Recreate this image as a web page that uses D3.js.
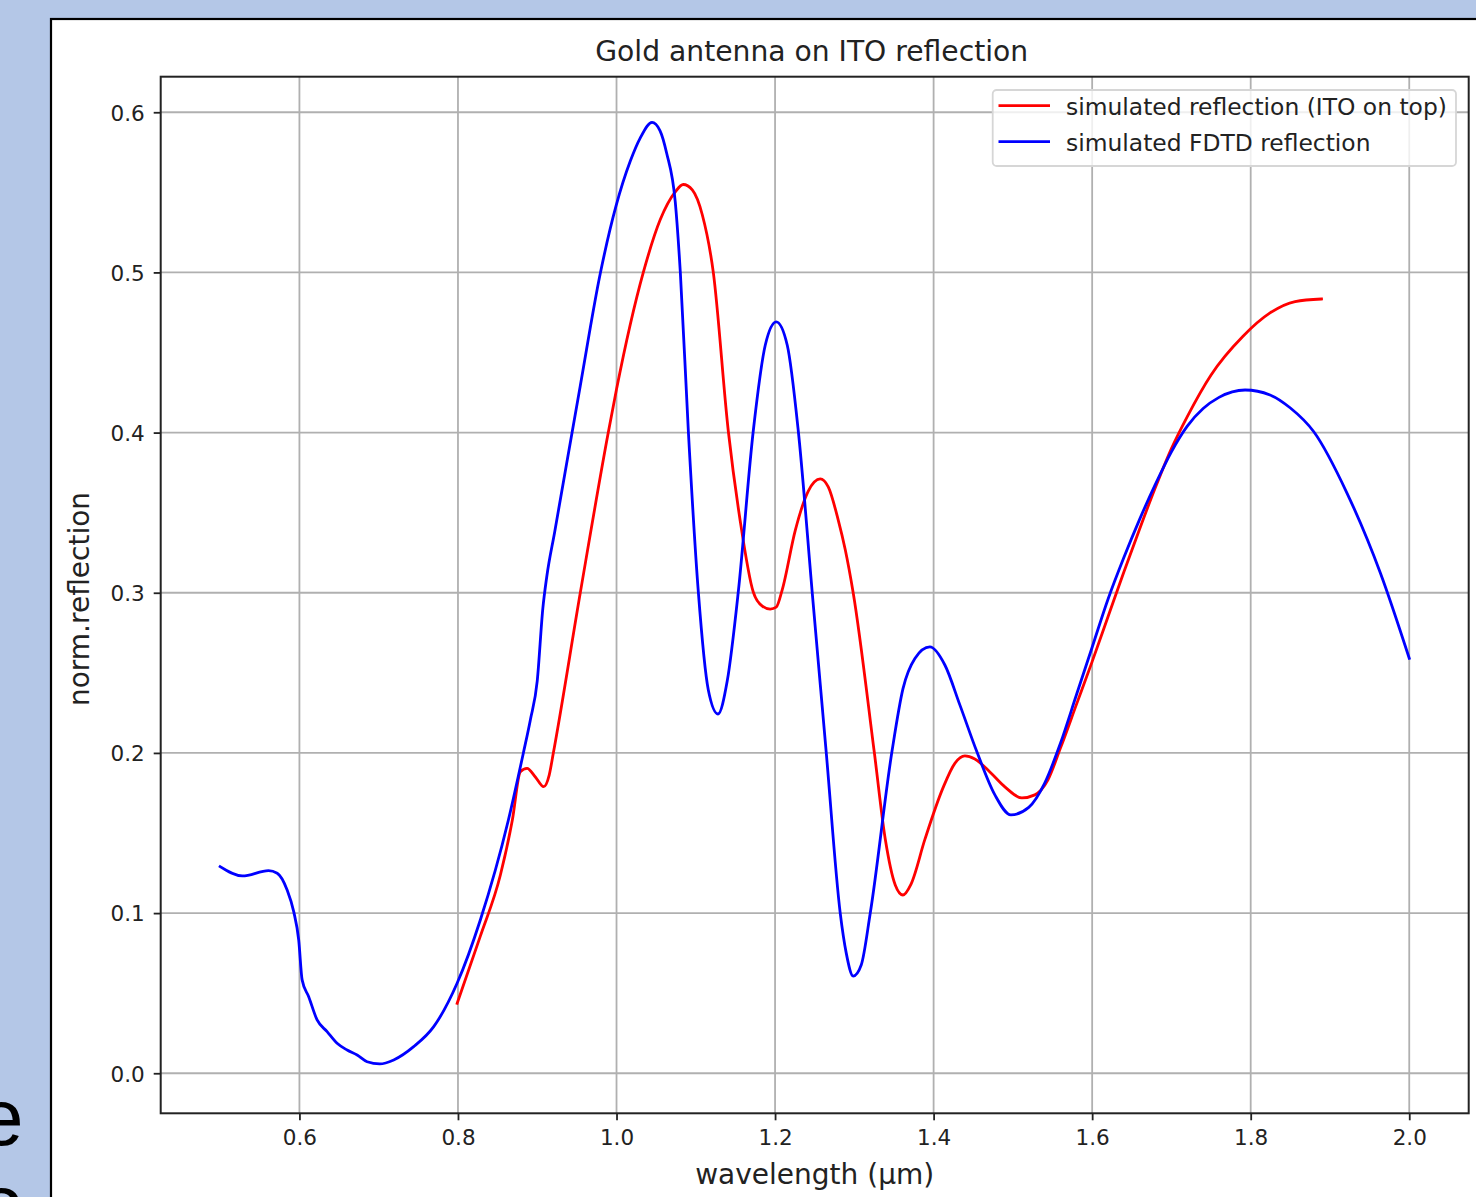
<!DOCTYPE html>
<html>
<head>
<meta charset="utf-8">
<script src="https://cdn.jsdelivr.net/npm/d3@7"></script>
<style>
  html, body { margin: 0; padding: 0; background: #b4c7e7; }
  svg { display: block; }
  text { font-family: "DejaVu Sans", sans-serif; }
</style>
</head>
<body>
<script>
// ---------- data ----------
const chartTitle = "Gold antenna on ITO reflection";
const xLabel = "wavelength (µm)";
const yLabel = "norm.reflection";
const seriesNames = ["simulated reflection (ITO on top)", "simulated FDTD reflection"];
const seriesColors = ["#ff0000", "#0000ff"];

const xTicks = [0.6, 0.8, 1.0, 1.2, 1.4, 1.6, 1.8, 2.0];
const yTicks = [0.0, 0.1, 0.2, 0.3, 0.4, 0.5, 0.6];

const redX = [0.799, 0.828, 0.8535, 0.8686, 0.8787, 0.8871, 0.8976, 0.9081, 0.915, 0.9203,
  0.9543, 0.9896, 1.0, 1.0338, 1.0552, 1.0741, 1.0842, 1.0956, 1.1082, 1.1221, 1.141,
  1.156, 1.1725, 1.1839, 1.1939, 1.2015, 1.2091, 1.2255, 1.2419, 1.257, 1.2671, 1.2797,
  1.2885, 1.2986, 1.3251, 1.339, 1.3516, 1.3613, 1.3714, 1.389, 1.4117, 1.4268, 1.4394, 1.452,
  1.471, 1.4899, 1.5113, 1.5277, 1.5441, 1.56, 1.58, 1.60, 1.62, 1.64, 1.66, 1.68, 1.70, 1.72,
  1.75, 1.79, 1.8244, 1.856, 1.8893];
const redY = [0.0437, 0.0853, 0.1238, 0.1581, 0.1883, 0.1904, 0.185, 0.1789, 0.186, 0.2,
  0.3, 0.4, 0.427, 0.5, 0.533, 0.5503, 0.5549, 0.5515, 0.536, 0.5, 0.401,
  0.345, 0.3005, 0.2917, 0.2898, 0.291, 0.302, 0.339, 0.3635, 0.3711, 0.3661, 0.3454,
  0.327, 0.2999, 0.2007, 0.1463, 0.1176, 0.1113, 0.118, 0.146, 0.178, 0.1935, 0.1981, 0.1962,
  0.1881, 0.1788, 0.1719, 0.1738, 0.1831, 0.203, 0.23, 0.257, 0.285, 0.313, 0.34, 0.366, 0.39, 0.41,
  0.436, 0.46, 0.4747, 0.4818, 0.4834];

const blueX = [0.5, 0.528, 0.561, 0.572, 0.5845, 0.5928, 0.5991, 0.6034, 0.6117, 0.6223, 0.6349,
  0.6475, 0.6602, 0.6728, 0.6854, 0.7013, 0.7189, 0.7441, 0.7694, 0.7989, 0.8282, 0.8636, 0.8825,
  0.8913, 0.9, 0.907, 0.912, 0.922, 0.9543, 0.9795, 0.9994, 1.0174, 1.03, 1.0448, 1.0548, 1.0632,
  1.0741, 1.0805, 1.0906, 1.1032, 1.1158, 1.128, 1.1397, 1.1536, 1.1725, 1.1876, 1.2015, 1.2154,
  1.2293, 1.2469, 1.2646, 1.2822, 1.2898, 1.2986, 1.3087, 1.3201, 1.3474, 1.3613, 1.3764, 1.3953,
  1.4142, 1.4331, 1.4546, 1.4773, 1.4975, 1.52, 1.54, 1.56, 1.58, 1.60, 1.62, 1.64, 1.66, 1.68,
  1.70, 1.72, 1.74, 1.76, 1.7929, 1.8244, 1.8497, 1.8796, 1.9216, 1.9637, 2.0];
const blueY = [0.129, 0.1232, 0.1265, 0.1249, 0.1144, 0.1009, 0.0832, 0.0583, 0.0478, 0.0333, 0.026,
  0.0187, 0.0145, 0.0114, 0.0072, 0.0058, 0.0083, 0.0166, 0.0291, 0.0562, 0.0957, 0.1581, 0.2,
  0.2206, 0.245, 0.29, 0.31, 0.338, 0.4293, 0.4993, 0.5415, 0.5695, 0.584, 0.5937, 0.5886, 0.5746,
  0.544, 0.5, 0.401, 0.3005, 0.2393, 0.2243, 0.245, 0.3005, 0.401, 0.4545, 0.4691, 0.4545,
  0.401, 0.3, 0.2, 0.1, 0.075, 0.0607, 0.0676, 0.1001, 0.2007, 0.24, 0.259, 0.2662,
  0.2549, 0.23, 0.2007, 0.1738, 0.1613, 0.166, 0.181, 0.206, 0.236, 0.266, 0.296, 0.322, 0.346, 0.368,
  0.388, 0.404, 0.415, 0.422, 0.4266, 0.4235, 0.4155, 0.4005, 0.3621, 0.3122, 0.2591];

// ---------- layout ----------
const W = 1476, H = 1197;
const plot = { left: 160.7, top: 76.7, right: 1468.7, bottom: 1113.3 };

const svg = d3.select("body").append("svg").attr("width", W).attr("height", H);

// slide background + stray slide letters
svg.append("rect").attr("width", W).attr("height", H).attr("fill", "#b4c7e7");
svg.append("text").attr("x", -21).attr("y", 1145)
  .style("font-family", "'Liberation Sans', Arial, sans-serif")
  .attr("font-size", 80).attr("fill", "#000").text("e");
svg.append("text").attr("x", -21).attr("y", 1231)
  .style("font-family", "'Liberation Sans', Arial, sans-serif")
  .attr("font-size", 80).attr("fill", "#000").text("o");

// figure panel
svg.append("rect").attr("x", 51).attr("y", 19).attr("width", W).attr("height", H)
  .attr("fill", "#ffffff").attr("stroke", "#000").attr("stroke-width", 2.2);

// scales
const x = d3.scaleLinear().domain([0.425, 2.075]).range([plot.left, plot.right]);
const y = d3.scaleLinear().domain([-0.025, 0.6222]).range([plot.bottom, plot.top]);

// grid
const grid = svg.append("g").attr("stroke", "#b0b0b0").attr("stroke-width", 1.8);
grid.selectAll("line.gx").data(xTicks).join("line").attr("class", "gx")
  .attr("x1", d => x(d)).attr("x2", d => x(d)).attr("y1", plot.top).attr("y2", plot.bottom);
grid.selectAll("line.gy").data(yTicks).join("line").attr("class", "gy")
  .attr("y1", d => y(d)).attr("y2", d => y(d)).attr("x1", plot.left).attr("x2", plot.right);

// lines
const line = d3.line().x(d => x(d[0])).y(d => y(d[1])).curve(d3.curveMonotoneX);
const redData = redX.map((v, i) => [v, redY[i]]);
const blueData = blueX.map((v, i) => [v, blueY[i]]);
svg.append("path").datum(redData).attr("d", line).attr("fill", "none")
  .attr("stroke", seriesColors[0]).attr("stroke-width", 2.8).attr("stroke-linejoin", "round").attr("stroke-linecap", "square");
svg.append("path").datum(blueData).attr("d", line).attr("fill", "none")
  .attr("stroke", seriesColors[1]).attr("stroke-width", 2.8).attr("stroke-linejoin", "round").attr("stroke-linecap", "square");

// axes
const fmt = d3.format(".1f");
const xAxis = svg.append("g").attr("transform", `translate(0,${plot.bottom})`)
  .call(d3.axisBottom(x).tickValues(xTicks).tickFormat(fmt).tickSize(7).tickPadding(8));
const yAxis = svg.append("g").attr("transform", `translate(${plot.left},0)`)
  .call(d3.axisLeft(y).tickValues(yTicks).tickFormat(fmt).tickSize(7).tickPadding(9));
[xAxis, yAxis].forEach(a => {
  a.select(".domain").remove();
  a.selectAll(".tick line").attr("stroke", "#222").attr("stroke-width", 1.8);
  a.selectAll(".tick text").attr("fill", "#222").attr("font-size", 21.5)
    .style("font-family", "'DejaVu Sans', sans-serif");
});
yAxis.selectAll(".tick text").attr("dy", "0.36em");
xAxis.selectAll(".tick text").attr("dy", "0.76em");

// spines
svg.append("rect").attr("x", plot.left).attr("y", plot.top)
  .attr("width", plot.right - plot.left).attr("height", plot.bottom - plot.top)
  .attr("fill", "none").attr("stroke", "#222").attr("stroke-width", 2);

// title and labels
svg.append("text").attr("x", (plot.left + plot.right) / 2 - 3).attr("y", 61)
  .attr("text-anchor", "middle").attr("font-size", 28.2).attr("fill", "#222").text(chartTitle);
svg.append("text").attr("x", (plot.left + plot.right) / 2).attr("y", 1184)
  .attr("text-anchor", "middle").attr("font-size", 28).attr("fill", "#222").text(xLabel);
svg.append("text").attr("transform", `translate(89,${(plot.top + plot.bottom) / 2 + 4}) rotate(-90)`)
  .attr("text-anchor", "middle").attr("font-size", 28).attr("fill", "#222").text(yLabel);

// legend
const lg = svg.append("g");
lg.append("rect").attr("x", 992.7).attr("y", 90).attr("width", 1456 - 992.7).attr("height", 76)
  .attr("rx", 4).attr("fill", "#ffffff").attr("fill-opacity", 0.8)
  .attr("stroke", "#d6d6d6").attr("stroke-width", 1.8);
const rows = [105.7, 141.7];
seriesNames.forEach((name, i) => {
  lg.append("line").attr("x1", 998.5).attr("x2", 1050).attr("y1", rows[i]).attr("y2", rows[i])
    .attr("stroke", seriesColors[i]).attr("stroke-width", 2.8);
  lg.append("text").attr("x", 1066).attr("y", rows[i] + 9).attr("font-size", 23.4)
    .attr("fill", "#222").text(name);
});
</script>
</body>
</html>
